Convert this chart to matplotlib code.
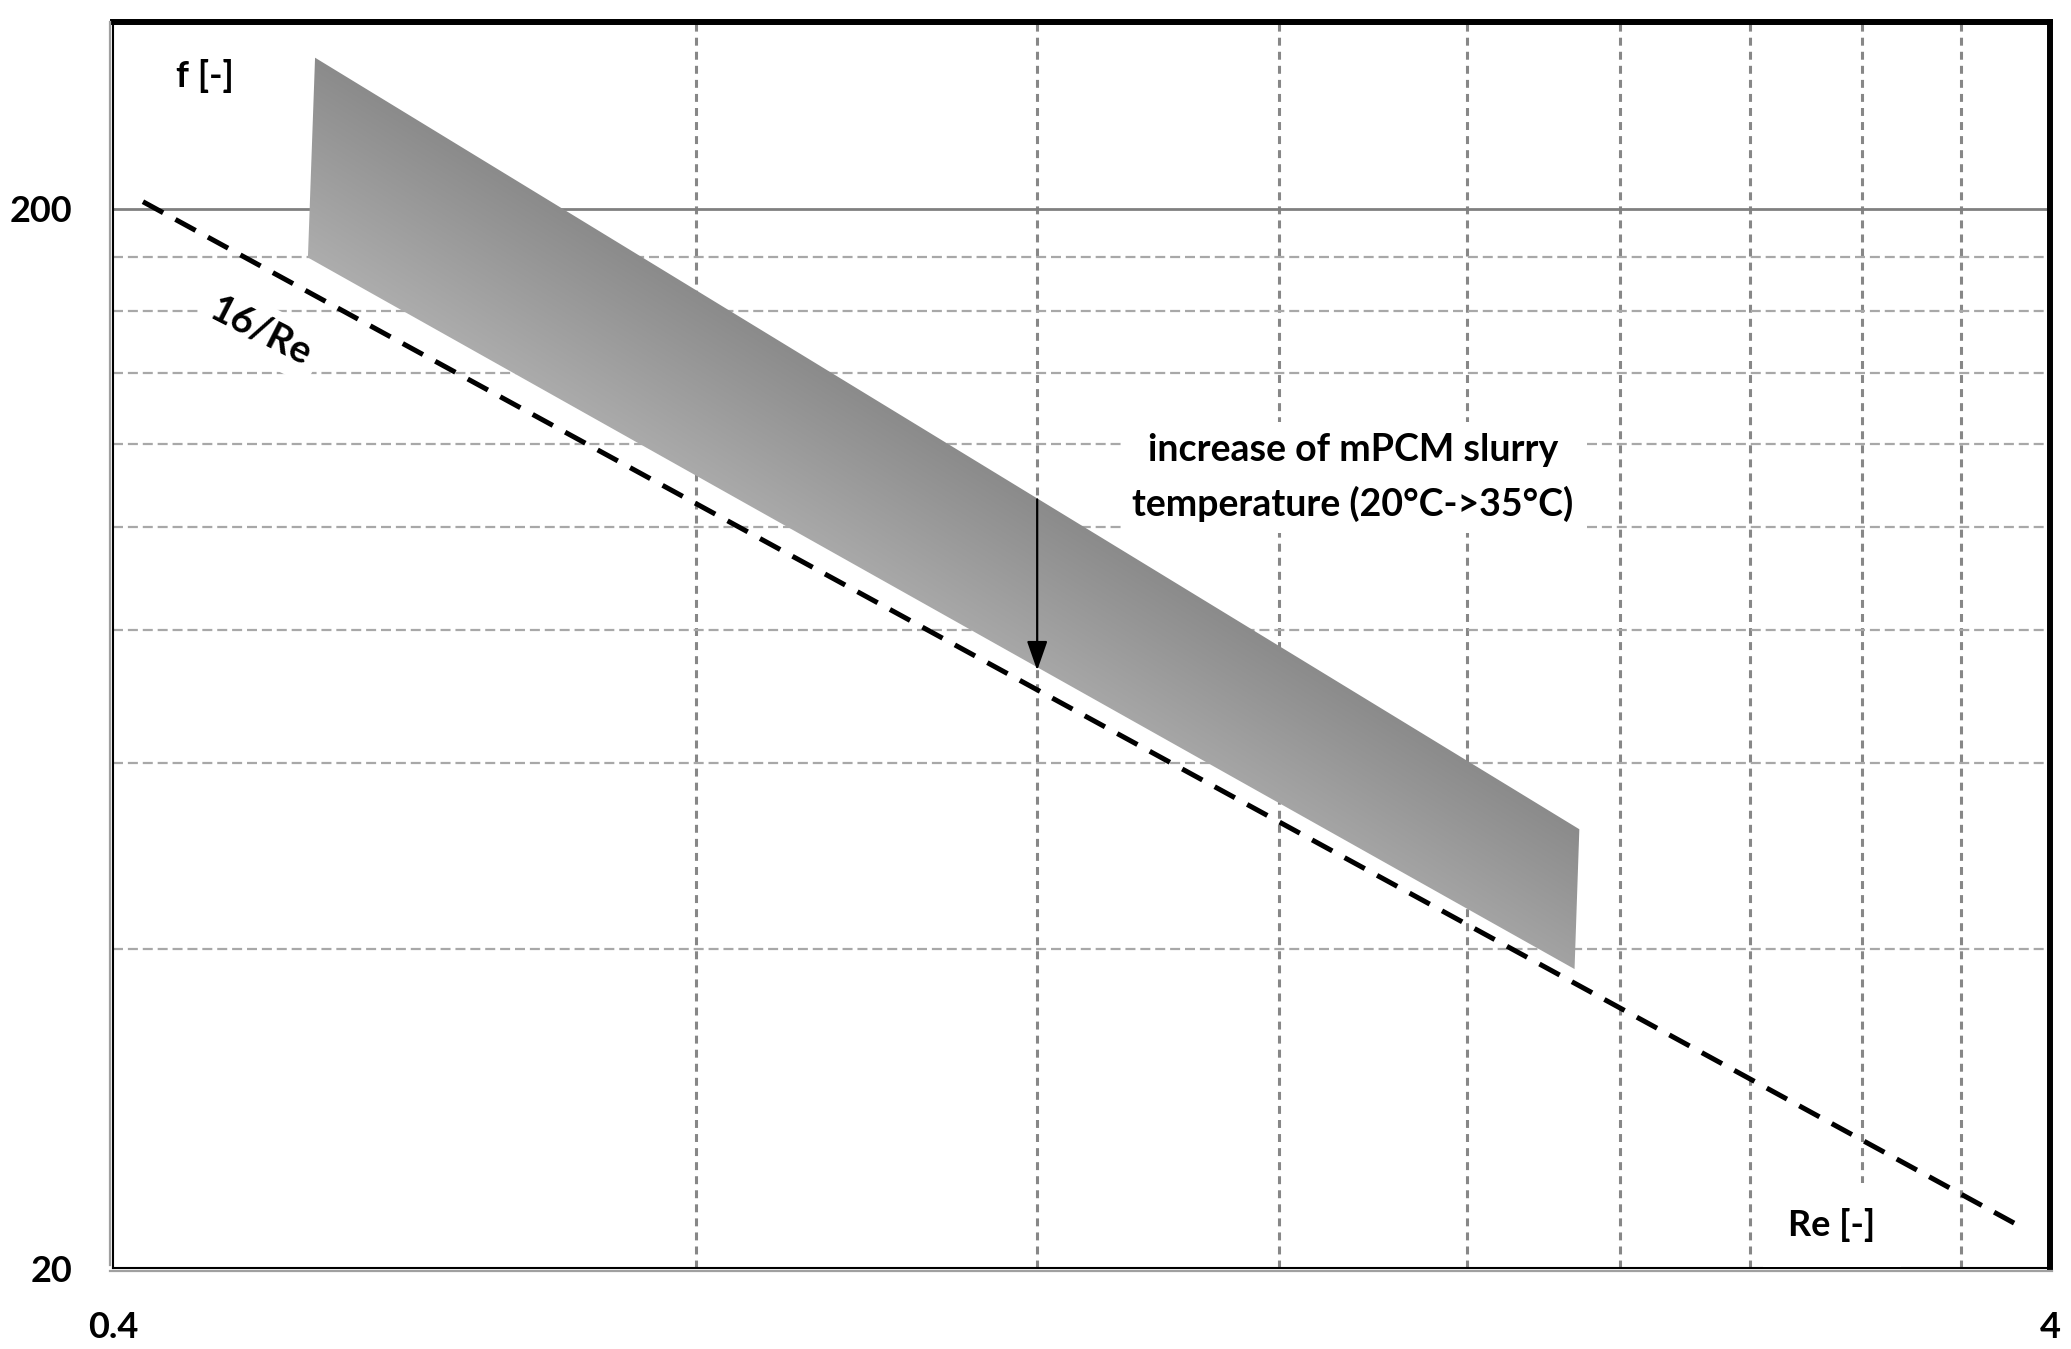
import numpy as np
import matplotlib
matplotlib.use('Agg')
import matplotlib.pyplot as plt
from matplotlib.colors import LinearSegmentedColormap
from matplotlib.lines import Line2D

plt.rcParams['font.family'] = ['Lato', 'DejaVu Sans']
plt.rcParams['font.weight'] = 'bold'

# data
re_line = [0.4145, 3.833]          # 16/Re reference line ends
f_line = [203.0, 22.05]
re_band = [0.5086, 2.286, 2.273, 0.5043]   # shaded region corners
f_band = [277.6, 51.9, 38.3, 179.8]
re_arrow = 1.2
f_arrow_from = 106.3
f_arrow_to = 73.3
x_grid = [0.8, 1.2, 1.6, 2.0, 2.4, 2.8, 3.2, 3.6]
y_grid = [40, 60, 80, 100, 120, 140, 160, 180]
x_ticks = [0.4, 4]
x_ticklabels = ['0.4', '4']
y_ticks = [20, 200]
y_ticklabels = ['20', '200']

W, H = 2071, 1349
fig = plt.figure(figsize=(W / 100, H / 100), dpi=100)
ax_l, ax_r, ax_t, ax_b = 113, 2050, 22, 1268
ax = fig.add_axes([ax_l / W, (H - ax_b) / H, (ax_r - ax_l) / W, (ax_b - ax_t) / H])
ax.set_xscale('log')
ax.set_yscale('log')
ax.set_xlim(0.4, 4)
ax.set_ylim(20, 300)

# grid
for xg in x_grid:
    ax.axvline(xg, color='#878787', lw=2.2, ls=(0, (2.6, 2.0)), zorder=1)
for yg in y_grid:
    ax.axhline(yg, color='#a8a8a8', lw=1.6, ls=(0, (4.5, 2.2)), zorder=1)
ax.axhline(200, color='#808080', lw=2.0, zorder=1)

# shaded band with gradient
band = ax.fill(re_band, f_band, facecolor='none', edgecolor='none', zorder=2)[0]
pts = ax.transData.transform(np.column_stack([re_band, f_band]))
x0, y0 = ax.transAxes.transform((0, 0))
x1, y1 = ax.transAxes.transform((1, 1))
d = pts[1] - pts[0]
n = np.array([-d[1], d[0]]) / np.hypot(*d)   # normal pointing up-right
proj = pts @ n
nx, ny = 600, 400
gx, gy = np.meshgrid(np.linspace(x0, x1, nx), np.linspace(y1, y0, ny))
t = gx * n[0] + gy * n[1]
cmap = LinearSegmentedColormap.from_list('band', ['#adadad', '#8b8b8b'])
img = ax.imshow(t, cmap=cmap, vmin=proj.min(), vmax=proj.max(), extent=[0, 1, 0, 1],
                transform=ax.transAxes, aspect='auto', zorder=2, interpolation='bilinear')
img.set_clip_path(band)

# 16/Re line
ax.plot(re_line, f_line, color='black', lw=3.6, ls=(0, (4.6, 2.8)), zorder=4)

# arrow
ax.annotate('', xy=(re_arrow, f_arrow_to), xytext=(re_arrow, f_arrow_from),
            arrowprops=dict(arrowstyle='-|>,head_length=0.4,head_width=0.14',
                            color='black', lw=1.6, mutation_scale=45,
                            shrinkA=0, shrinkB=0), zorder=5)

fs = 26
ax.text(0.0475, 0.9567, 'f [-]', transform=ax.transAxes, fontsize=fs,
        ha='center', va='center', zorder=6)
ax.text(0.0762, 0.7515, '16/Re', transform=ax.transAxes, fontsize=28, rotation=-27,
        ha='center', va='center', rotation_mode='anchor', zorder=3,
        bbox=dict(facecolor='white', edgecolor='none', boxstyle='square,pad=0.25'))
ax.text(0.640, 0.6345, 'increase of mPCM slurry\ntemperature (20°C->35°C)',
        transform=ax.transAxes, fontsize=27, ha='center', va='center',
        linespacing=1.6, zorder=3,
        bbox=dict(facecolor='white', edgecolor='none', boxstyle='square,pad=0.3'))
ax.text(0.8873, 0.0345, 'Re [-]', transform=ax.transAxes, fontsize=fs,
        ha='center', va='center', zorder=3,
        bbox=dict(facecolor='white', edgecolor='none', boxstyle='square,pad=0.7'))

# ticks
ax.set_xticks(x_ticks)
ax.set_xticklabels(x_ticklabels)
ax.set_yticks(y_ticks)
ax.set_yticklabels(y_ticklabels)
ax.minorticks_off()
ax.tick_params(axis='both', length=0, labelsize=fs)
ax.tick_params(axis='x', pad=31)
ax.tick_params(axis='y', pad=29)
for lab in ax.get_xticklabels() + ax.get_yticklabels():
    lab.set_fontweight('bold')

# frame
for side in ['top', 'right']:
    ax.spines[side].set_linewidth(4.3)
for side in ['left', 'bottom']:
    ax.spines[side].set_linewidth(1.5)
ax.spines['top'].set_zorder(7)
fig.add_artist(Line2D([(ax_l - 3) / W, (ax_l - 3) / W], [(H - ax_b + 3) / H, (H - ax_t) / H],
                      color='#a0a0a0', lw=1.6))
fig.add_artist(Line2D([(ax_l - 3) / W, (ax_r + 2) / W], [(H - ax_b - 3) / H, (H - ax_b - 3) / H],
                      color='#a0a0a0', lw=1.6))

fig.savefig('out.png', dpi=100, facecolor='white')
